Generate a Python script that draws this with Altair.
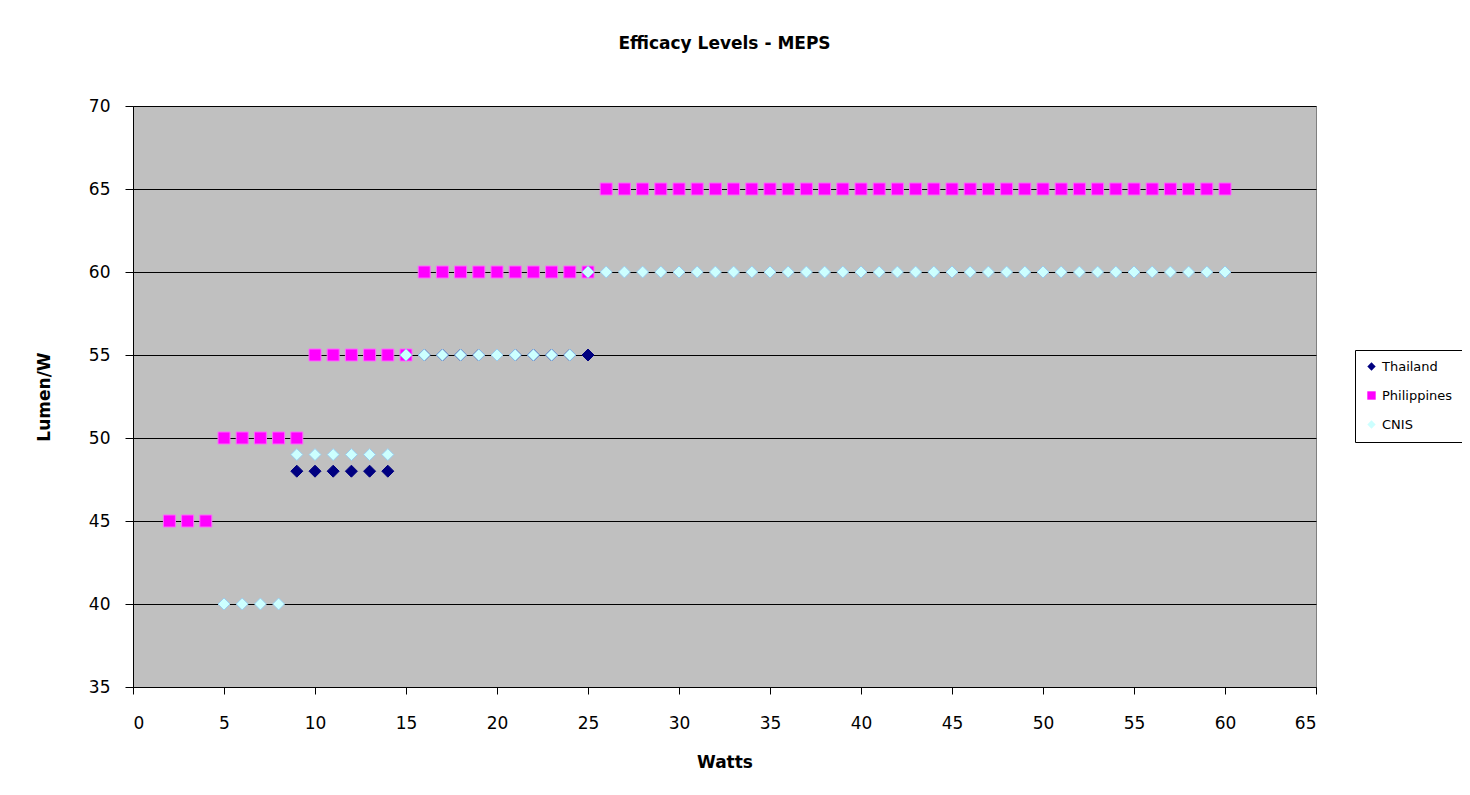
import altair as alt
import pandas as pd

series_order = ["Thailand", "Philippines", "CNIS"]

thai_w = [9, 10, 11, 12, 13, 14, 15, 16, 17, 18, 19, 20, 21, 22, 23, 24, 25]
thai_v = [48, 48, 48, 48, 48, 48, 55, 55, 55, 55, 55, 55, 55, 55, 55, 55, 55]

phil_w = [2, 3, 4, 5, 6, 7, 8, 9, 10, 11, 12, 13, 14, 15,
          16, 17, 18, 19, 20, 21, 22, 23, 24, 25,
          26, 27, 28, 29, 30, 31, 32, 33, 34, 35, 36, 37, 38, 39, 40, 41, 42, 43,
          44, 45, 46, 47, 48, 49, 50, 51, 52, 53, 54, 55, 56, 57, 58, 59, 60]
phil_v = [45, 45, 45, 50, 50, 50, 50, 50, 55, 55, 55, 55, 55, 55,
          60, 60, 60, 60, 60, 60, 60, 60, 60, 60,
          65, 65, 65, 65, 65, 65, 65, 65, 65, 65, 65, 65, 65, 65, 65, 65, 65, 65,
          65, 65, 65, 65, 65, 65, 65, 65, 65, 65, 65, 65, 65, 65, 65, 65, 65]

cnis_w = [5, 6, 7, 8, 9, 10, 11, 12, 13, 14,
          15, 16, 17, 18, 19, 20, 21, 22, 23, 24,
          25, 26, 27, 28, 29, 30, 31, 32, 33, 34, 35, 36, 37, 38, 39, 40, 41, 42,
          43, 44, 45, 46, 47, 48, 49, 50, 51, 52, 53, 54, 55, 56, 57, 58, 59, 60]
cnis_v = [40, 40, 40, 40, 49, 49, 49, 49, 49, 49,
          55, 55, 55, 55, 55, 55, 55, 55, 55, 55,
          60, 60, 60, 60, 60, 60, 60, 60, 60, 60, 60, 60, 60, 60, 60, 60, 60, 60,
          60, 60, 60, 60, 60, 60, 60, 60, 60, 60, 60, 60, 60, 60, 60, 60, 60, 60]

rows = []
for name, ws, vs in [("Thailand", thai_w, thai_v),
                     ("Philippines", phil_w, phil_v),
                     ("CNIS", cnis_w, cnis_v)]:
    for w, v in zip(ws, vs):
        rows.append({"Series": name, "Watts": w, "Lumen": v})
df = pd.DataFrame(rows)

FONT = "DejaVu Sans"

chart = alt.Chart(df).mark_point(filled=True, size=144, strokeWidth=1, opacity=1).encode(
    x=alt.X("Watts:Q", scale=alt.Scale(domain=[0, 65], nice=False, zero=False),
            axis=alt.Axis(values=list(range(0, 66, 5)), title="Watts", grid=False,
                          tickSize=7, tickColor="#000000", domainColor="#000000",
                          labelPadding=21, titlePadding=23)),
    y=alt.Y("Lumen:Q", scale=alt.Scale(domain=[35, 70], nice=False, zero=False),
            axis=alt.Axis(values=list(range(35, 71, 5)), title="Lumen/W", grid=True,
                          gridColor="#000000", gridWidth=1, gridOpacity=1,
                          tickSize=8, tickColor="#000000", domainColor="#000000",
                          labelPadding=15, titlePadding=35)),
    color=alt.Color("Series:N",
                    scale=alt.Scale(domain=series_order, range=["#000080", "#FF00FF", "#CCFFFF"]),
                    legend=alt.Legend(title=None, orient="none", legendX=1222, legendY=244,
                                      symbolSize=70, labelFontSize=13, labelFont=FONT,
                                      strokeColor="#000000", fillColor="#FFFFFF",
                                      padding=10, rowPadding=15, symbolStrokeWidth=0,
                                      labelColor="#000000", labelOffset=4)),
    shape=alt.Shape("Series:N",
                    scale=alt.Scale(domain=series_order, range=["diamond", "square", "diamond"])),
    stroke=alt.Stroke("Series:N",
                      scale=alt.Scale(domain=series_order, range=["#000080", "#FF66FF", "#99CCEE"]),
                      legend=None),
).properties(
    width=1183,
    height=581,
    title=alt.Title("Efficacy Levels - MEPS", fontSize=17, fontWeight="bold", font=FONT,
                    offset=44, color="#000000"),
    padding={"left": 125, "top": 98, "right": 146, "bottom": 84},
    autosize=alt.AutoSizeParams(type="none"),
    background="#FFFFFF",
).configure_view(
    fill="#C0C0C0", stroke="#808080", strokeWidth=1
).configure_axis(
    labelFont=FONT, labelFontSize=17, labelColor="#000000",
    titleFont=FONT, titleFontSize=17, titleFontWeight="bold", titleColor="#000000",
    domainWidth=1, tickWidth=1
)

chart.save("out.html", embed_options={"renderer": "svg", "actions": False})
